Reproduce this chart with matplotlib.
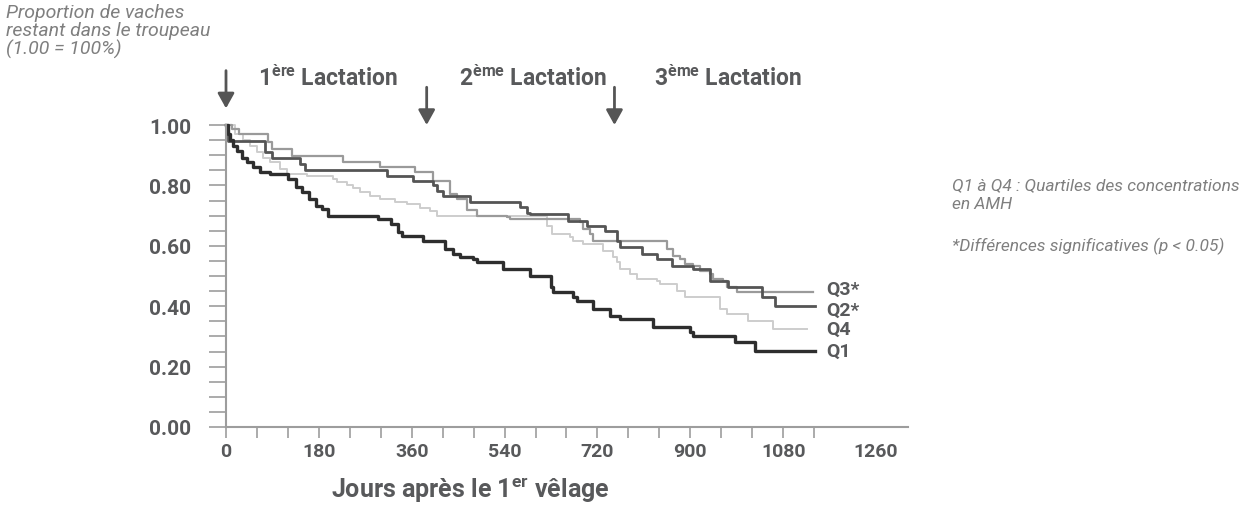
import numpy as np
import matplotlib
matplotlib.use("Agg")
import matplotlib.pyplot as plt
from matplotlib.transforms import offset_copy

plt.rcParams['font.family'] = ['Roboto', 'DejaVu Sans']
plt.rcParams['mathtext.fontset'] = 'custom'
plt.rcParams['mathtext.bf'] = 'Roboto:bold'
plt.rcParams['mathtext.rm'] = 'Roboto:bold'

# survival curves (days after 1st calving, proportion remaining), steps-post
q1_days = [0, 4, 8, 14, 21, 31, 41, 52, 66, 85, 120, 136, 147, 161, 174, 186, 198,
           295, 320, 333, 341, 382, 424, 440, 453, 479, 486, 537, 589, 630, 634,
           672, 680, 711, 744, 764, 828, 899, 905, 986, 1025, 1141]
q1_vals = [1.00, 0.97, 0.95, 0.93, 0.915, 0.89, 0.877, 0.86, 0.845, 0.837, 0.82, 0.795,
           0.778, 0.755, 0.733, 0.722, 0.70, 0.69, 0.672, 0.645, 0.633, 0.617, 0.59,
           0.573, 0.563, 0.556, 0.545, 0.523, 0.50, 0.464, 0.446, 0.43, 0.418, 0.39,
           0.368, 0.357, 0.33, 0.314, 0.302, 0.28, 0.253, 0.253]

q2_days = [0, 4, 76, 89, 143, 153, 312, 362, 401, 409, 420, 473, 570, 583, 589, 663,
           700, 734, 758, 764, 806, 835, 864, 905, 938, 973, 1039, 1064, 1141]
q2_vals = [1.00, 0.948, 0.91, 0.89, 0.87, 0.85, 0.832, 0.816, 0.80, 0.783, 0.766, 0.745,
           0.728, 0.71, 0.705, 0.683, 0.667, 0.65, 0.617, 0.596, 0.573, 0.556, 0.534,
           0.523, 0.484, 0.463, 0.43, 0.40, 0.40]

q3_days = [0, 12, 25, 81, 89, 128, 227, 298, 366, 401, 434, 448, 467, 486, 545, 550,
           686, 692, 705, 711, 855, 866, 880, 890, 905, 919, 938, 944, 963, 971, 990, 1138]
q3_vals = [1.00, 0.987, 0.97, 0.944, 0.92, 0.898, 0.876, 0.86, 0.844, 0.816, 0.77, 0.755,
           0.72, 0.70, 0.695, 0.688, 0.68, 0.656, 0.64, 0.617, 0.59, 0.567, 0.556, 0.54,
           0.534, 0.518, 0.507, 0.49, 0.484, 0.463, 0.446, 0.446]

q4_days = [0, 17, 33, 47, 60, 72, 85, 105, 118, 157, 207, 215, 234, 246, 260, 279, 298,
           327, 351, 376, 395, 409, 622, 632, 667, 672, 692, 731, 750, 758, 764, 783,
           797, 835, 841, 874, 890, 957, 971, 1012, 1060, 1126]
q4_vals = [1.00, 0.97, 0.95, 0.93, 0.91, 0.89, 0.877, 0.854, 0.837, 0.832, 0.82, 0.81,
           0.80, 0.79, 0.778, 0.765, 0.755, 0.745, 0.738, 0.725, 0.716, 0.70, 0.667,
           0.64, 0.63, 0.617, 0.606, 0.584, 0.563, 0.546, 0.523, 0.507, 0.49, 0.484,
           0.473, 0.45, 0.43, 0.39, 0.374, 0.352, 0.325, 0.325]

series_labels = ['Q1', 'Q2*', 'Q3*', 'Q4']
lactation_days = [0, 389, 753]
lactation_labels = [('1', 'ère'), ('2', 'ème'), ('3', 'ème')]
lactation_label_days = [198, 594, 973]

TXT = '#58595b'
NOTE = '#7f7f7f'

fig = plt.figure(figsize=(12.42, 5.10), dpi=100)
ax = fig.add_axes([226 / 1242, 82 / 510, 682 / 1242, 302 / 510])

styles = [('#2e2e2e', 2.4), ('#555555', 2.0), ('#9a9a9a', 1.6), ('#cdcdcd', 1.4)]
label_shift = [0, -2.5, 2.5, 0]   # points, keeps Q2*/Q3* apart
curves = [(q1_days, q1_vals), (q2_days, q2_vals), (q3_days, q3_vals), (q4_days, q4_vals)]
for (d, v), (c, lw) in reversed(list(zip(curves, styles))):
    ax.plot(d, v, drawstyle='steps-post', color=c, lw=lw, clip_on=False)
for (d, v), lab, dy in zip(curves, series_labels, label_shift):
    tr = offset_copy(ax.transData, fig=fig, x=0, y=dy, units='points')
    ax.text(1163, v[-1], lab, color=TXT, fontsize=14, fontweight='bold',
            va='center', ha='left', transform=tr)

ax.set_xlim(0, 1322)
ax.set_ylim(0, 1.0)
for s in ['top', 'right']:
    ax.spines[s].set_visible(False)
for s in ['left', 'bottom']:
    ax.spines[s].set_color('#9d9d9d')
    ax.spines[s].set_linewidth(1.5)

ax.set_xticks(np.arange(0, 1261, 180))
ax.set_xticks([d for d in range(60, 1141, 60) if d % 180], minor=True)
ax.set_yticks(np.arange(0, 1.01, 0.2))
ax.set_yticks(np.arange(0.05, 1.0, 0.05), minor=True)
ax.set_yticklabels(['%.2f' % t for t in np.arange(0, 1.01, 0.2)])
ax.tick_params(axis='both', which='both', color='#9d9d9d', width=1.2,
               labelcolor=TXT)
ax.tick_params(axis='y', which='both', length=12, pad=13, labelsize=15)
ax.tick_params(axis='x', which='both', length=8, pad=3, labelsize=14)
for lbl in ax.get_xticklabels() + ax.get_yticklabels():
    lbl.set_fontweight('bold')
ax.xaxis.get_major_ticks()[-1].tick1line.set_visible(False)

fig.text(470 / 1242, 1 - 491 / 510, r'Jours après le 1$^{\mathbf{er}}$ vêlage',
         fontsize=18, fontweight='bold', color=TXT, ha='center', va='center')

# arrows marking calvings
trans = ax.get_xaxis_transform()
for i, d in enumerate(lactation_days):
    top, bot = (1.18, 1.055) if i == 0 else (1.125, 1.0)
    ax.annotate('', xy=(d, bot), xytext=(d, top), xycoords=trans, textcoords=trans,
                arrowprops=dict(arrowstyle='-|>,head_width=0.5,head_length=0.9',
                                color='#555555', lw=2, shrinkA=0, shrinkB=0),
                annotation_clip=False)
for d, (n, sup) in zip(lactation_label_days, lactation_labels):
    ax.text(d, 1.158, n + r'$^{\mathbf{' + sup + '}}$ Lactation', transform=trans,
            ha='center', va='center', fontsize=16.5, fontweight='bold', color=TXT)

fig.text(6 / 1242, 1 - 4 / 510,
         'Proportion de vaches\nrestant dans le troupeau\n(1.00 = 100%)',
         ha='left', va='top', fontsize=14, style='italic', color=NOTE, linespacing=1.0)
fig.text(952 / 1242, 1 - 178 / 510, 'Q1 à Q4 : Quartiles des concentrations\nen AMH',
         ha='left', va='top', fontsize=12.5, style='italic', color=NOTE, linespacing=1.3)
fig.text(952 / 1242, 1 - 246 / 510, '*Différences significatives (p < 0.05)',
         ha='left', va='center', fontsize=12.5, style='italic', color=NOTE)

fig.savefig('out.png', dpi=100)
